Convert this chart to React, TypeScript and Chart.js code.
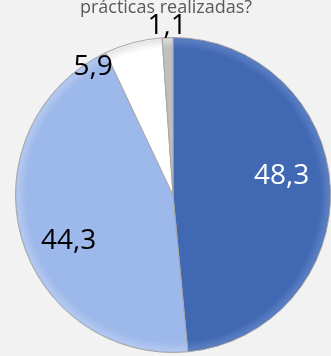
import React, { useEffect, useRef } from "react";
import { Chart, registerables } from "chart.js";

Chart.register(...registerables);

const titleText = "prácticas realizadas?";
const categories = ["A", "B", "C", "D"];
const values = [48.3, 44.3, 5.9, 1.1];
const valueLabels = ["48,3", "44,3", "5,9", "1,1"];
const sliceColors = ["#4068b3", "#9db8ea", "#ffffff", "#bfbfbf"];
const sliceRims = ["#5a7ec2", "#b3c8ef", "#e6e6e6", "#d9d9d9"];
const labelColors = ["#ffffff", "#000000", "#000000", "#000000"];

// label placement: radial factor and pixel nudge
const labelPlace = [
  { f: 0.69, dx: 0, dy: -14 },
  { f: 0.7, dx: 2, dy: 17 },
  { f: 0.85, dx: -46, dy: 2 },
  { f: 1.08, dx: 0, dy: 1 },
];

const textPlugin = {
  id: "textPlugin",
  afterDraw(chart: any) {
    const ctx = chart.ctx;
    ctx.save();
    ctx.font = "18px 'Open Sans'";
    ctx.fillStyle = "#595959";
    ctx.textAlign = "center";
    ctx.textBaseline = "alphabetic";
    ctx.fillText(titleText, 166, 13);
    const meta = chart.getDatasetMeta(0);
    meta.data.forEach((arc: any, i: number) => {
      const p = arc.getProps(["x", "y", "startAngle", "endAngle", "outerRadius"], true);
      const mid = (p.startAngle + p.endAngle) / 2;
      const pl = labelPlace[i];
      const x = p.x + Math.cos(mid) * p.outerRadius * pl.f + pl.dx;
      const y = p.y + Math.sin(mid) * p.outerRadius * pl.f + pl.dy;
      ctx.font = "28px 'Open Sans'";
      ctx.fillStyle = labelColors[i];
      ctx.textAlign = "center";
      ctx.textBaseline = "middle";
      ctx.fillText(valueLabels[i], x, y);
    });
    ctx.restore();
  },
};

function sliceFill(c: any) {
  const chart = c.chart;
  const a = chart.chartArea;
  const i = c.dataIndex;
  if (!a) return sliceColors[i];
  const cx = (a.left + a.right) / 2;
  const cy = (a.top + a.bottom) / 2;
  const r = Math.min(a.right - a.left, a.bottom - a.top) / 2;
  const g = chart.ctx.createRadialGradient(cx, cy, 0, cx, cy, r);
  g.addColorStop(0, sliceColors[i]);
  g.addColorStop(0.93, sliceColors[i]);
  g.addColorStop(0.985, sliceRims[i]);
  g.addColorStop(1, sliceColors[i]);
  return g;
}

export default function App() {
  const ref = useRef<HTMLCanvasElement>(null);
  useEffect(() => {
    if (!ref.current) return;
    const chart = new Chart(ref.current, {
      type: "pie",
      data: {
        labels: categories,
        datasets: [
          {
            data: values,
            backgroundColor: sliceFill,
            borderColor: "#a6a6a6",
            borderWidth: 1,
          },
        ],
      },
      options: {
        responsive: false,
        animation: false,
        layout: { padding: { left: 15, right: 0, top: 37, bottom: 3 } },
        plugins: {
          legend: { display: false },
          title: { display: false },
          tooltip: { enabled: false },
        },
      },
      plugins: [textPlugin],
    });
    return () => chart.destroy();
  }, []);
  return (
    <div
      style={{
        position: "absolute",
        left: 0,
        top: 0,
        width: 331,
        height: 356,
        background: "#f2f2f2",
        overflow: "hidden",
      }}
    >
      <canvas ref={ref} width={331} height={356} style={{ display: "block" }} />
    </div>
  );
}
